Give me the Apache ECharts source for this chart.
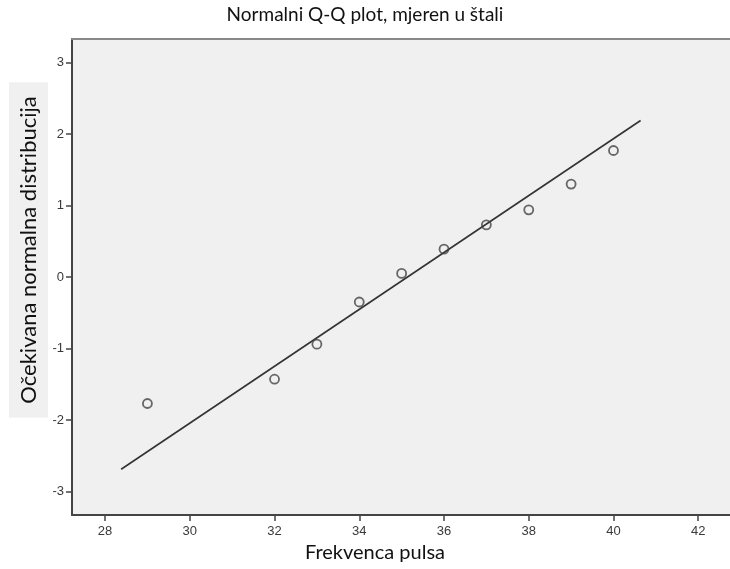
<!DOCTYPE html>
<html>
<head>
<meta charset="utf-8">
<script src="https://cdn.jsdelivr.net/npm/echarts@6/dist/echarts.min.js"></script>
<style>html,body{margin:0;padding:0;background:#fff}#c{width:730px;height:569px}</style>
</head>
<body>
<div id="c"></div>
<script>
const titleText = 'Normalni Q-Q plot, mjeren u štali';
const xName = 'Frekvenca pulsa';
const yName = 'Očekivana normalna distribucija';
const pulse = [29, 32, 33, 34, 35, 36, 37, 38, 39, 40];
const expected = [-1.77, -1.43, -0.94, -0.35, 0.05, 0.39, 0.73, 0.94, 1.30, 1.77];
const lineX = [28.38, 40.64];
const lineY = [-2.69, 2.19];
const xTicks = [28, 30, 32, 34, 36, 38, 40, 42];
const yTicks = [-3, -2, -1, 0, 1, 2, 3];

const chart = echarts.init(document.getElementById('c'), null, {renderer: 'canvas'});
const labelStyle = {color: '#3a3a3a', fontFamily: 'Liberation Sans', fontSize: 13};
chart.setOption({
  animation: false,
  backgroundColor: '#ffffff',
  title: {
    text: titleText, left: 'center', top: 0,
    textStyle: {fontFamily: 'Lato', fontSize: 19, fontWeight: 'normal', color: '#111'}
  },
  grid: {
    left: 72, top: 39, width: 663, height: 476,
    show: true, backgroundColor: '#f0f0f0', borderWidth: 0
  },
  xAxis: [{
    type: 'value', min: 27.22, max: 42.75,
    axisLine: {show: true, onZero: false, lineStyle: {color: '#444', width: 2}},
    axisTick: {show: true, customValues: xTicks, length: 6, lineStyle: {color: '#444', width: 1.5}},
    axisLabel: {customValues: xTicks, margin: 10, ...labelStyle},
    splitLine: {show: false}
  }, {
    type: 'value', position: 'top', min: 27.22, max: 42.75,
    axisLine: {show: true, onZero: false, lineStyle: {color: '#888', width: 2}},
    axisTick: {show: false}, axisLabel: {show: false}, splitLine: {show: false}
  }],
  yAxis: {
    type: 'value', min: -3.33, max: 3.33,
    axisLine: {show: true, onZero: false, lineStyle: {color: '#444', width: 2}},
    axisTick: {show: true, customValues: yTicks, length: 6, lineStyle: {color: '#444', width: 1.5}},
    axisLabel: {customValues: yTicks, margin: 8, ...labelStyle},
    splitLine: {show: false}
  },
  graphic: [
    {type: 'text', x: 28.5, y: 250, rotation: Math.PI / 2,
     style: {text: yName, fontFamily: 'Lato', fontSize: 22, fill: '#111', align: 'center', verticalAlign: 'middle',
             backgroundColor: '#f0f0f0', padding: [9, 14, 8, 14]}},
    {type: 'text', x: 375, y: 553,
     style: {text: xName, fontFamily: 'Lato', fontSize: 20, fill: '#111', align: 'center', verticalAlign: 'middle'}}
  ],
  series: [
    {
      type: 'line', data: lineX.map((x, i) => [x, lineY[i]]),
      symbol: 'none', lineStyle: {color: '#333', width: 1.6}, silent: true, z: 2
    },
    {
      type: 'scatter', data: pulse.map((x, i) => [x, expected[i]]),
      symbol: 'circle', symbolSize: 9,
      itemStyle: {color: 'rgba(0,0,0,0)', borderColor: '#444', borderWidth: 1.8}, z: 3
    }
  ]
});
</script>
</body>
</html>
